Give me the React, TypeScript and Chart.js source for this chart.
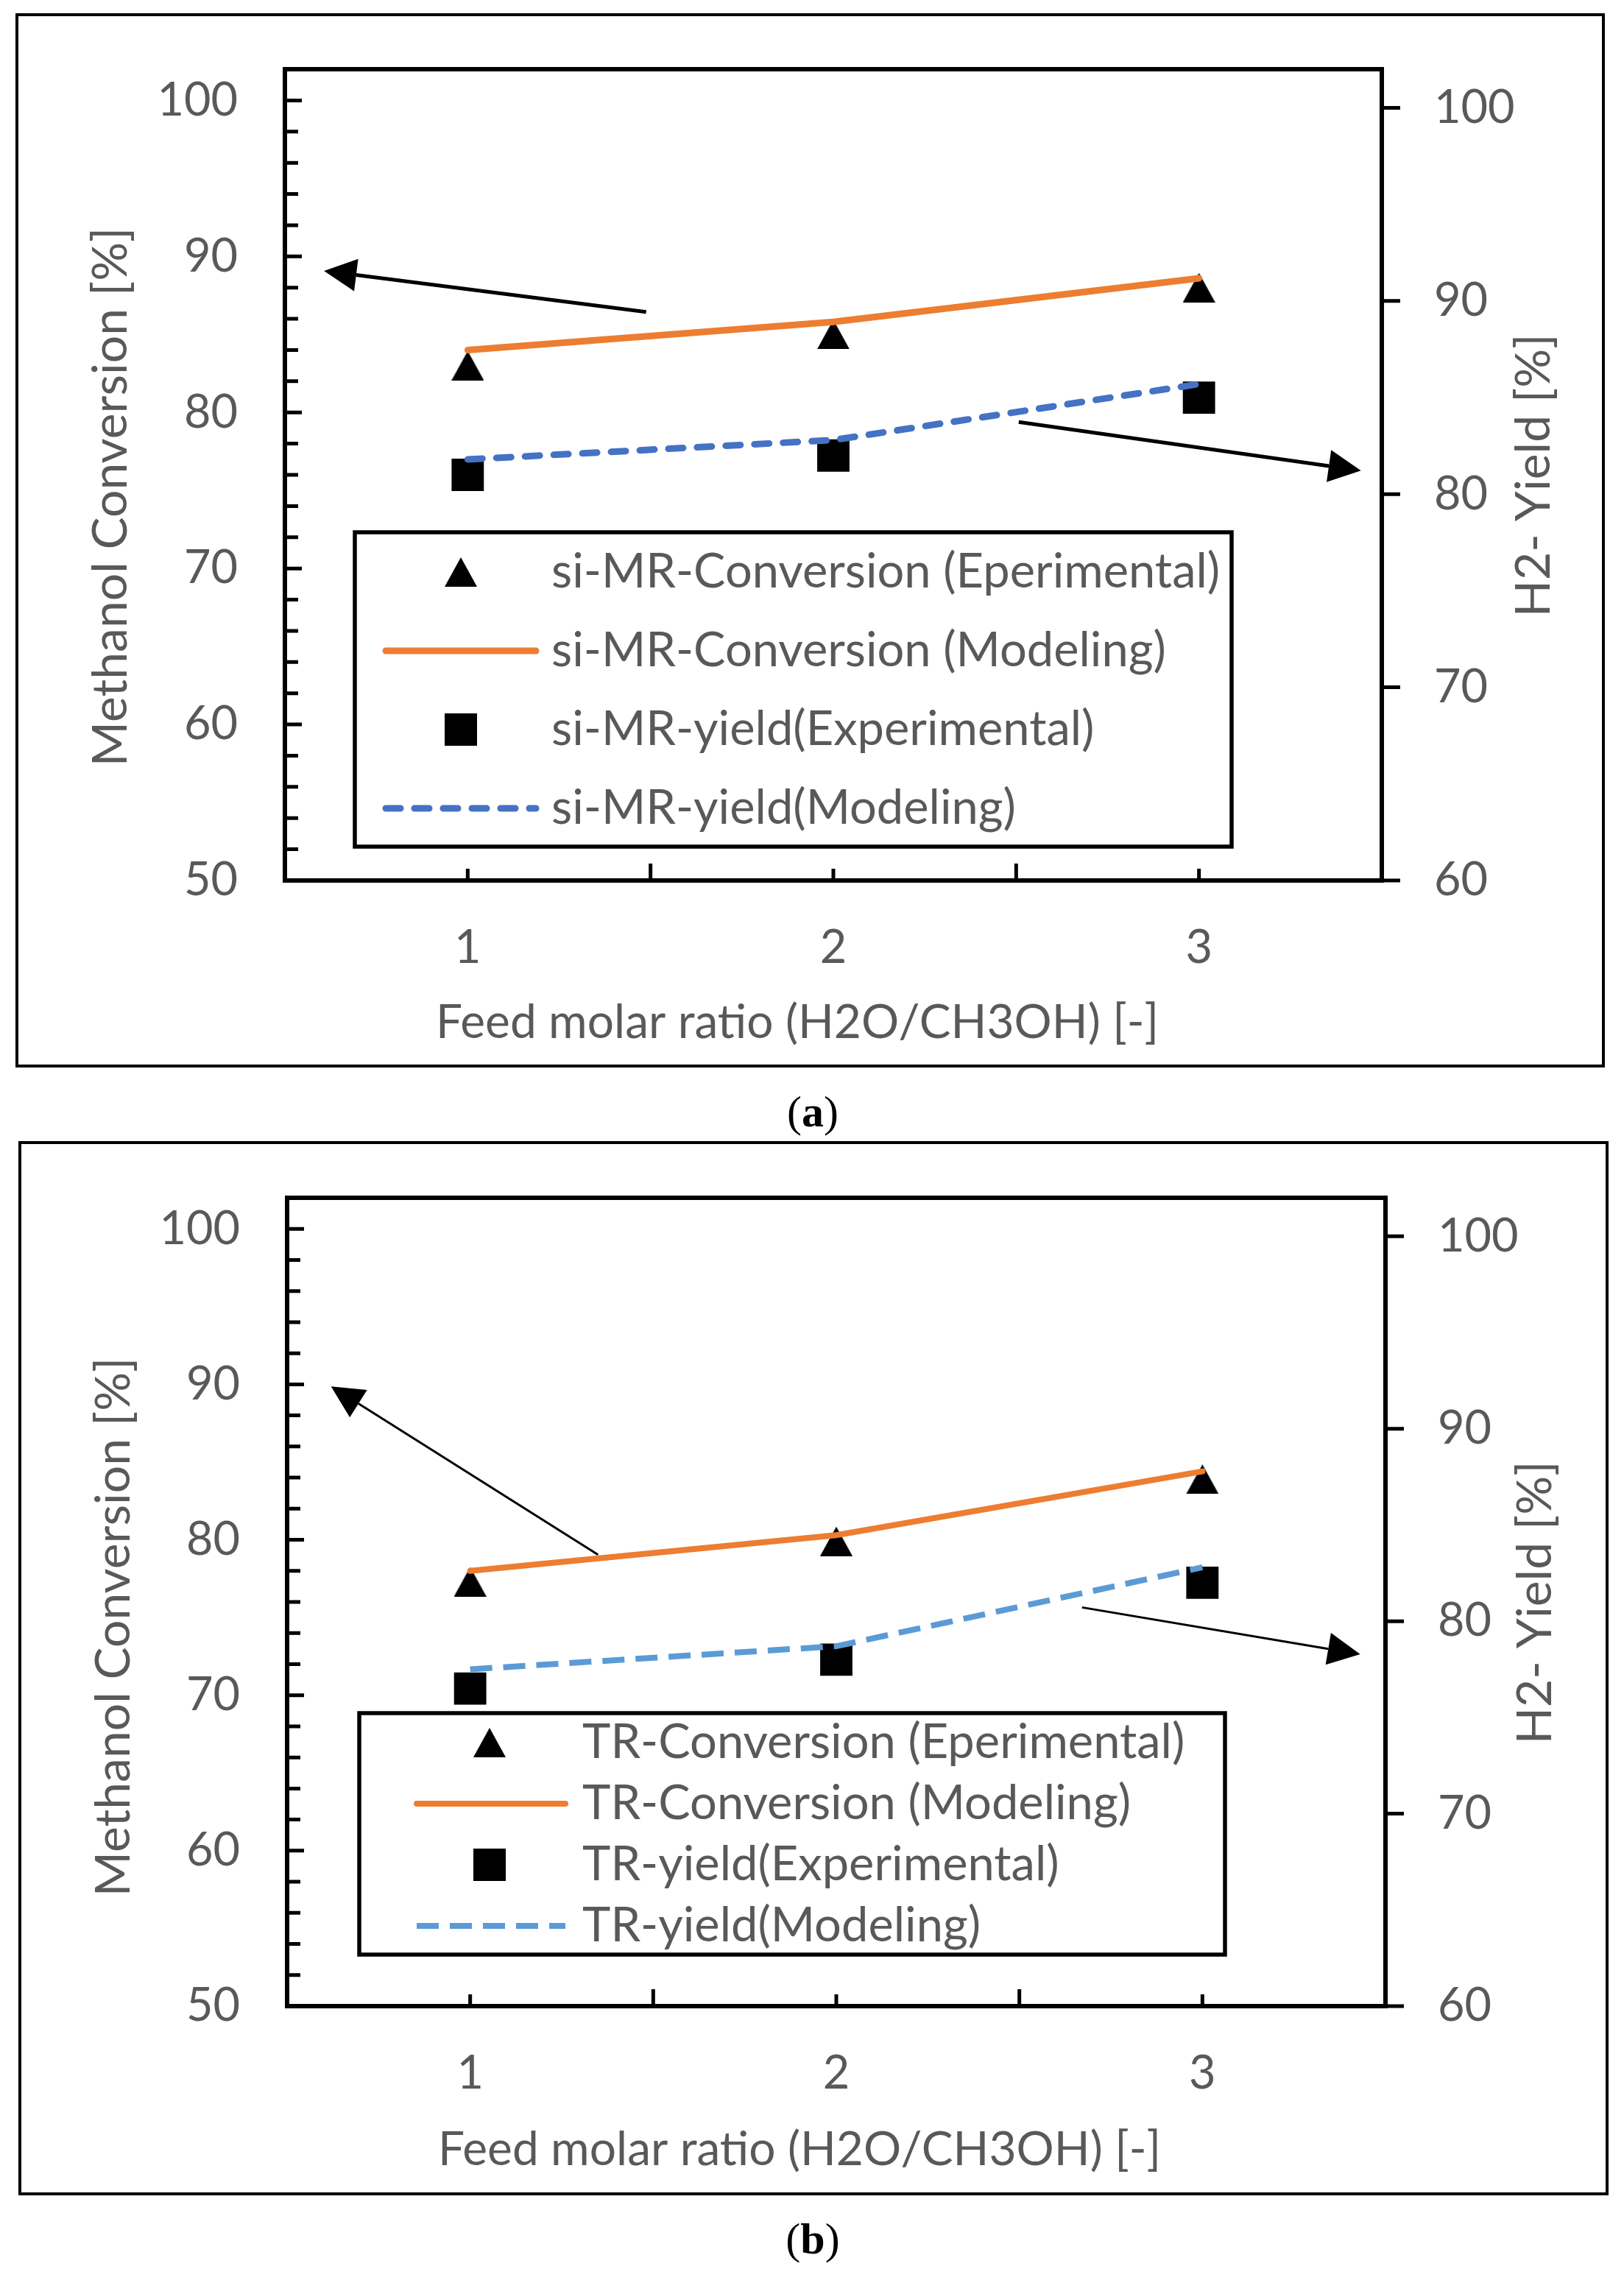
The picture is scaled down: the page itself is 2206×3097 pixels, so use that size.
import { useEffect, useRef } from "react";
import Chart from "chart.js/auto";

// Feed molar ratio (H2O/CH3OH)
const feedRatio = [1, 2, 3];
const xTickLabels = ["1", "2", "3"];
const convTicks = [50, 60, 70, 80, 90, 100];
const yieldTicks = [60, 70, 80, 90, 100];

// (a) si-MR
const mrConvExp = [83.0, 85.0, 88.0];
const mrConvModel = [84.0, 85.8, 88.6];
const mrYieldExp = [81.0, 82.0, 85.0];
const mrYieldModel = [81.8, 82.8, 85.7];
const mrLabels = [
  "si-MR-Conversion (Eperimental)",
  "si-MR-Conversion (Modeling)",
  "si-MR-yield(Experimental)",
  "si-MR-yield(Modeling)",
];

// (b) TR
const trConvExp = [77.3, 79.9, 83.9];
const trConvModel = [78.0, 80.3, 84.4];
const trYieldExp = [76.5, 78.0, 82.0];
const trYieldModel = [77.5, 78.7, 82.8];
const trLabels = [
  "TR-Conversion (Eperimental)",
  "TR-Conversion (Modeling)",
  "TR-yield(Experimental)",
  "TR-yield(Modeling)",
];

// annotation arrows: [fromRatio, fromConversion, toRatio, toConversion]
const mrArrows = [
  [1.488, 86.44, 0.607, 89.07],
  [2.507, 79.39, 3.443, 76.27],
];
const trArrows = [
  [1.349, 79.04, 0.62, 89.87],
  [2.671, 75.65, 3.431, 72.64],
];

const xTitle = "Feed molar ratio (H2O/CH3OH) [-]";
const leftTitle = "Methanol Conversion [%]";
const rightTitle = "H2- Yield [%]";

const FONT = "Lato, 'Open Sans', sans-serif";
const GREY = "#595959";
const ORANGE = "#ED7D31";
const TICK_FS = 63;
const XTITLE_FS = 64;
const YTITLE_FS = 66;
const LEGEND_FS = 65;

interface PanelGeo {
  frame: number[]; // page coords x1, y1, x2, y2
  area: number[];
  legendBox: number[];
  markerX: number;
  legendLine: number[];
  textX: number;
  row0: number;
  rowStep: number;
  leftTitle: number[]; // baseline x, centre y
  rightTitle: number[];
  xTitle: number[]; // centre x, baseline y
  lineWidth: number;
  arrowWidth: number;
  dash: number[];
  dashCap: CanvasLineCap;
  blue: string;
}

const geoA: PanelGeo = {
  frame: [23, 20, 2178, 1448],
  area: [387, 94, 1877, 1196],
  legendBox: [482, 723, 1673, 1150],
  markerX: 626,
  legendLine: [524, 728],
  textX: 749,
  row0: 777,
  rowStep: 107,
  leftTitle: [172, 675],
  rightTitle: [2105, 646],
  xTitle: [1083, 1410],
  lineWidth: 9,
  arrowWidth: 5,
  dash: [20, 19],
  dashCap: "round",
  blue: "#4472C4",
};

const geoB: PanelGeo = {
  frame: [27, 1552, 2183, 2980],
  area: [390, 1627, 1882, 2725],
  legendBox: [488, 2327, 1664, 2655],
  markerX: 665,
  legendLine: [566, 768],
  textX: 791,
  row0: 2367,
  rowStep: 83,
  leftTitle: [176, 2210],
  rightTitle: [2107, 2177],
  xTitle: [1086, 2941],
  lineWidth: 8,
  arrowWidth: 3,
  dash: [30, 15],
  dashCap: "butt",
  blue: "#5B9BD5",
};

function makeTriangle(w: number, h: number) {
  const c = document.createElement("canvas");
  c.width = w;
  c.height = h;
  const g = c.getContext("2d")!;
  g.fillStyle = "#000";
  g.beginPath();
  g.moveTo(w / 2, 0);
  g.lineTo(w, h);
  g.lineTo(0, h);
  g.closePath();
  g.fill();
  return c;
}

// keep the scale box exactly as given, without label overhang padding
function fixBox(s: any, size: { width?: number; height?: number }) {
  if (size.width !== undefined) s.width = size.width;
  if (size.height !== undefined) s.height = size.height;
  s.paddingTop = 0;
  s.paddingBottom = 0;
  s.paddingLeft = 0;
  s.paddingRight = 0;
}

interface PanelProps {
  geo: PanelGeo;
  labels: string[];
  convExp: number[];
  convModel: number[];
  yieldExp: number[];
  yieldModel: number[];
  arrows: number[][];
}

function Panel({ geo, labels, convExp, convModel, yieldExp, yieldModel, arrows }: PanelProps) {
  const canvasRef = useRef<HTMLCanvasElement | null>(null);
  const ox = geo.frame[0] - 4;
  const oy = geo.frame[1] - 4;
  const W = geo.frame[2] - geo.frame[0] + 8;
  const H = geo.frame[3] - geo.frame[1] + 8;

  useEffect(() => {
    const ctx = canvasRef.current?.getContext("2d");
    if (!ctx) return;
    const tri = makeTriangle(44, 40);
    const pts = (vals: number[]) => feedRatio.map((x, i) => ({ x, y: vals[i] }));
    const tickFont = { family: FONT, size: TICK_FS, lineHeight: 1.2 };

    // frame, tick marks, titles, legend and arrows
    const decor = {
      id: "decor",
      afterDraw(chart: any) {
        const c = chart.ctx as CanvasRenderingContext2D;
        const { left, top, right, bottom } = chart.chartArea;
        const X = chart.scales.x;
        const Y = chart.scales.y;
        const Y1 = chart.scales.y1;
        c.save();
        c.strokeStyle = "#000";
        c.fillStyle = "#000";

        // outer frame
        c.lineWidth = 4;
        c.strokeRect(geo.frame[0] - ox, geo.frame[1] - oy, geo.frame[2] - geo.frame[0], geo.frame[3] - geo.frame[1]);

        // tick marks
        c.lineWidth = 5;
        c.beginPath();
        for (let v = 52; v < 102; v += 2) {
          const y = Y.getPixelForValue(v);
          c.moveTo(left, y);
          c.lineTo(left + (v % 10 === 0 ? 23 : 18), y);
        }
        for (let v = 1; v <= 3; v += 0.5) {
          const x = X.getPixelForValue(v);
          c.moveTo(x, bottom);
          c.lineTo(x, bottom - (Number.isInteger(v) ? 16 : 23));
        }
        yieldTicks.forEach((v) => {
          const y = Y1.getPixelForValue(v);
          c.moveTo(right, y);
          c.lineTo(right + 25, y);
        });
        c.stroke();

        // plot area box
        c.lineWidth = 6;
        c.strokeRect(left, top, right - left, bottom - top);

        // axis titles
        c.fillStyle = GREY;
        c.textBaseline = "alphabetic";
        c.textAlign = "center";
        c.font = `${XTITLE_FS}px ${FONT}`;
        c.fillText(xTitle, geo.xTitle[0] - ox, geo.xTitle[1] - oy);
        c.font = `${YTITLE_FS}px ${FONT}`;
        [
          [leftTitle, geo.leftTitle],
          [rightTitle, geo.rightTitle],
        ].forEach(([text, pos]: any) => {
          c.save();
          c.translate(pos[0] - ox, pos[1] - oy);
          c.rotate(-Math.PI / 2);
          c.fillText(text, 0, 0);
          c.restore();
        });

        // legend
        const b = geo.legendBox;
        c.strokeStyle = "#000";
        c.lineWidth = 5.5;
        c.strokeRect(b[0] - ox, b[1] - oy, b[2] - b[0], b[3] - b[1]);
        c.font = `${LEGEND_FS}px ${FONT}`;
        chart.data.datasets.forEach((ds: any, i: number) => {
          const y = geo.row0 + i * geo.rowStep - oy;
          if (ds.showLine === false) {
            if (ds.pointStyle === "rect") {
              c.fillStyle = "#000";
              c.fillRect(geo.markerX - ox - 22, y - 22, 44, 44);
            } else {
              c.drawImage(tri, geo.markerX - ox - 22, y - 20);
            }
          } else {
            c.save();
            c.strokeStyle = ds.borderColor;
            c.lineWidth = ds.borderWidth;
            c.lineCap = ds.borderCapStyle;
            c.setLineDash(ds.borderDash || []);
            c.beginPath();
            c.moveTo(geo.legendLine[0] - ox, y);
            c.lineTo(geo.legendLine[1] - ox, y);
            c.stroke();
            c.restore();
          }
          c.fillStyle = GREY;
          c.textAlign = "left";
          c.fillText(ds.label, geo.textX - ox, y + 21);
        });

        // arrows
        c.strokeStyle = "#000";
        c.fillStyle = "#000";
        c.lineWidth = geo.arrowWidth;
        arrows.forEach(([x0, y0, x1, y1]) => {
          const ax = X.getPixelForValue(x0);
          const ay = Y.getPixelForValue(y0);
          const bx = X.getPixelForValue(x1);
          const by = Y.getPixelForValue(y1);
          const ang = Math.atan2(by - ay, bx - ax);
          const hl = 44;
          const hw = 22;
          const cx = bx - Math.cos(ang) * hl;
          const cy = by - Math.sin(ang) * hl;
          c.beginPath();
          c.moveTo(ax, ay);
          c.lineTo(cx, cy);
          c.stroke();
          c.beginPath();
          c.moveTo(bx, by);
          c.lineTo(cx - Math.sin(ang) * hw, cy + Math.cos(ang) * hw);
          c.lineTo(cx + Math.sin(ang) * hw, cy - Math.cos(ang) * hw);
          c.closePath();
          c.fill();
        });
        c.restore();
      },
    };

    const chart = new Chart(ctx, {
      type: "scatter",
      data: {
        datasets: [
          {
            label: labels[0],
            data: pts(convExp),
            yAxisID: "y",
            showLine: false,
            pointStyle: tri,
            pointRadius: 22,
            backgroundColor: "#000",
            borderColor: "#000",
            order: 1,
          },
          {
            label: labels[1],
            data: pts(convModel),
            yAxisID: "y",
            showLine: true,
            pointRadius: 0,
            borderColor: ORANGE,
            backgroundColor: ORANGE,
            borderWidth: geo.lineWidth,
            borderCapStyle: "round",
            tension: 0,
            order: 0,
          },
          {
            label: labels[2],
            data: pts(yieldExp),
            yAxisID: "y1",
            showLine: false,
            pointStyle: "rect",
            pointRadius: 31,
            pointBorderWidth: 0,
            backgroundColor: "#000",
            borderColor: "#000",
            order: 1,
          },
          {
            label: labels[3],
            data: pts(yieldModel),
            yAxisID: "y1",
            showLine: true,
            pointRadius: 0,
            borderColor: geo.blue,
            backgroundColor: geo.blue,
            borderWidth: geo.lineWidth,
            borderDash: geo.dash,
            borderCapStyle: geo.dashCap,
            tension: 0,
            order: 0,
          },
        ] as any,
      },
      options: {
        responsive: false,
        maintainAspectRatio: false,
        animation: false,
        events: [],
        layout: {
          autoPadding: false,
          padding: { top: geo.area[1] - oy, left: 0, right: 0, bottom: 0 },
        },
        plugins: { legend: { display: false }, tooltip: { enabled: false } },
        scales: {
          x: {
            type: "linear",
            min: 0.5,
            max: 3.5,
            afterBuildTicks: (s: any) => {
              s.ticks = feedRatio.map((value) => ({ value }));
            },
            afterFit: (s: any) => fixBox(s, { height: oy + H - geo.area[3] }),
            grid: { display: false, drawTicks: false, tickLength: 0 },
            border: { display: false },
            ticks: {
              font: tickFont,
              color: GREY,
              padding: 54,
              maxRotation: 0,
              callback: (v: any) => xTickLabels[feedRatio.indexOf(Number(v))],
            },
          },
          y: {
            type: "linear",
            position: "left",
            min: 50,
            max: 102,
            afterBuildTicks: (s: any) => {
              s.ticks = convTicks.map((value) => ({ value }));
            },
            afterFit: (s: any) => fixBox(s, { width: geo.area[0] - ox }),
            grid: { display: false, drawTicks: false, tickLength: 0 },
            border: { display: false },
            ticks: { font: tickFont, color: GREY, padding: 64 },
          },
          y1: {
            type: "linear",
            position: "right",
            min: 60,
            max: 102,
            afterBuildTicks: (s: any) => {
              s.ticks = yieldTicks.map((value) => ({ value }));
            },
            afterFit: (s: any) => fixBox(s, { width: ox + W - geo.area[2] }),
            grid: { display: false, drawTicks: false, tickLength: 0 },
            border: { display: false },
            ticks: { font: tickFont, color: GREY, padding: 71 },
          },
        },
      },
      plugins: [decor],
    });

    return () => {
      chart.destroy();
    };
  }, [geo, labels, convExp, convModel, yieldExp, yieldModel, arrows]);

  return (
    <canvas
      ref={canvasRef}
      width={W}
      height={H}
      style={{ position: "absolute", left: ox, top: oy, width: W, height: H, display: "block" }}
    />
  );
}

function Caption({ letter, baseline }: { letter: string; baseline: number }) {
  return (
    <div
      style={{
        position: "absolute",
        left: 0,
        width: 2208,
        top: baseline - 50,
        textAlign: "center",
        fontFamily: "'Liberation Serif', 'Times New Roman', serif",
        fontSize: 60,
        lineHeight: "60px",
        color: "#000",
      }}
    >
      (<b>{letter}</b>)
    </div>
  );
}

export default function App() {
  return (
    <div style={{ position: "absolute", left: 0, top: 0, width: 2206, height: 3097, background: "#fff" }}>
      <Panel
        geo={geoA}
        labels={mrLabels}
        convExp={mrConvExp}
        convModel={mrConvModel}
        yieldExp={mrYieldExp}
        yieldModel={mrYieldModel}
        arrows={mrArrows}
      />
      <Caption letter="a" baseline={1530} />
      <Panel
        geo={geoB}
        labels={trLabels}
        convExp={trConvExp}
        convModel={trConvModel}
        yieldExp={trYieldExp}
        yieldModel={trYieldModel}
        arrows={trArrows}
      />
      <Caption letter="b" baseline={3061} />
    </div>
  );
}
